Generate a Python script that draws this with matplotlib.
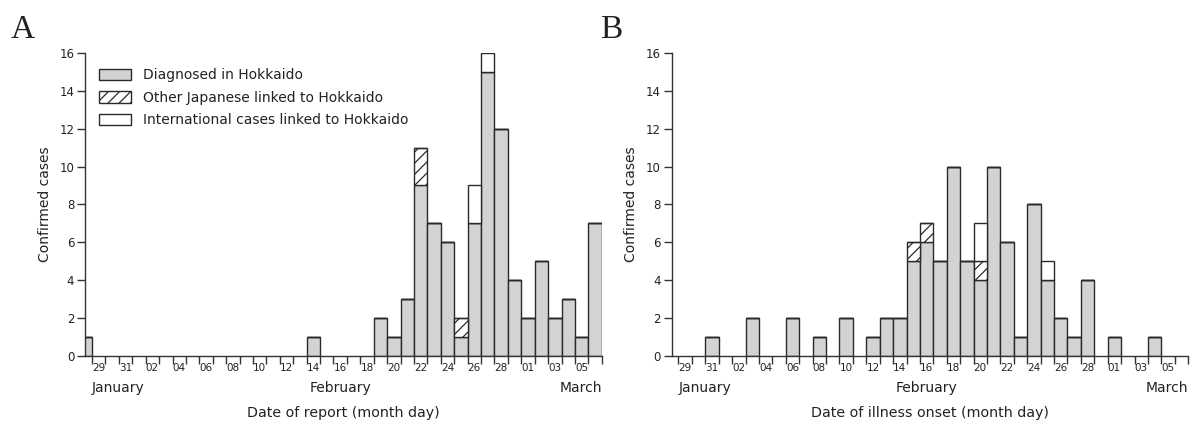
import matplotlib
matplotlib.use('Agg')
import matplotlib.pyplot as plt
from matplotlib.patches import Patch
import numpy as np

plt.rcParams['font.family'] = ['DejaVu Sans']
plt.rcParams['hatch.linewidth'] = 0.9
plt.rcParams['hatch.color'] = '#222222'

# day index: 0 = Jan 28, 4 = Feb 1, 33 = Mar 1 (2020)
days = np.arange(1, 40)
tick_days = np.arange(1, 39, 2)
tick_labels = ['29', '31', '02', '04', '06', '08', '10', '12', '14', '16',
               '18', '20', '22', '24', '26', '28', '01', '03', '05']

# Panel A: date of report
rep_days = [0, 17, 22, 23, 24, 25, 26, 27, 28, 29, 30, 31, 32, 33, 34, 35, 36, 37, 38]
rep_hokkaido = [1, 1, 2, 1, 3, 9, 7, 6, 1, 7, 15, 12, 4, 2, 5, 2, 3, 1, 7]
rep_japan = [0, 0, 0, 0, 0, 2, 0, 0, 1, 0, 0, 0, 0, 0, 0, 0, 0, 0, 0]
rep_intl = [0, 0, 0, 0, 0, 0, 0, 0, 0, 2, 1, 0, 0, 0, 0, 0, 0, 0, 0]

# Panel B: date of illness onset
ons_days = [3, 6, 9, 11, 13, 15, 16, 17, 18, 19, 20, 21, 22, 23, 24, 25, 26,
            27, 28, 29, 30, 31, 33, 36]
ons_hokkaido = [1, 2, 2, 1, 2, 1, 2, 2, 5, 6, 5, 10, 5, 4, 10, 6, 1,
                8, 4, 2, 1, 4, 1, 1]
ons_japan = [0, 0, 0, 0, 0, 0, 0, 0, 1, 1, 0, 0, 0, 1, 0, 0, 0,
             0, 0, 0, 0, 0, 0, 0]
ons_intl = [0, 0, 0, 0, 0, 0, 0, 0, 0, 0, 0, 0, 0, 2, 0, 0, 0,
            0, 1, 0, 0, 0, 0, 0]

gray = '#d3d3d3'
edge = '#2a2a2a'
axcol = '#333333'

fig = plt.figure(figsize=(11.9, 4.21), dpi=100)
axA = fig.add_axes([0.0717, 0.155, 0.434, 0.719])
axB = fig.add_axes([0.5645, 0.155, 0.434, 0.719])


def draw(ax, d, h, j, n, xlabel):
    d = np.array(d)
    h = np.array(h)
    j = np.array(j)
    n = np.array(n)
    ax.bar(d, h, width=1, align='edge', color=gray, edgecolor=edge, linewidth=1.0)
    ax.bar(d, j, bottom=h, width=1, align='edge', color='white', edgecolor=edge,
           linewidth=1.0, hatch='///')
    ax.bar(d, n, bottom=h + j, width=1, align='edge', color='white', edgecolor=edge,
           linewidth=1.0)
    ax.set_xlim(0.5, 39)
    ax.set_ylim(0, 16)
    ax.set_yticks(range(0, 17, 2))
    ax.set_xticks(days, minor=False)
    ax.set_xticklabels([''] * len(days))
    ax.set_xticks(tick_days + 0.5, minor=True)
    ax.set_xticklabels(tick_labels, minor=True)
    ax.tick_params(axis='x', which='major', length=6, width=1, color=axcol)
    ax.tick_params(axis='x', which='minor', length=0, pad=5, labelsize=7.5,
                   labelcolor='#222222')
    ax.tick_params(axis='y', length=6, width=1, color=axcol, labelsize=8.5,
                   labelcolor='#222222', pad=2)
    for s in ['top', 'right']:
        ax.spines[s].set_visible(False)
    for s in ['left', 'bottom']:
        ax.spines[s].set_color(axcol)
        ax.spines[s].set_linewidth(1.0)
    ax.text(1, -0.107, 'January', transform=ax.get_xaxis_transform(),
            ha='left', va='center', fontsize=10, color='#222222')
    ax.text(17.2, -0.107, 'February', transform=ax.get_xaxis_transform(),
            ha='left', va='center', fontsize=10, color='#222222')
    ax.text(39, -0.107, 'March', transform=ax.get_xaxis_transform(),
            ha='right', va='center', fontsize=10, color='#222222')
    ax.text(0.5, -0.188, xlabel, transform=ax.transAxes,
            ha='center', va='center', fontsize=10.3, color='#222222')
    ax.text(-0.078, 0.5, 'Confirmed cases', transform=ax.transAxes, rotation=90,
            ha='center', va='center', fontsize=10, color='#222222')


draw(axA, rep_days, rep_hokkaido, rep_japan, rep_intl, 'Date of report (month day)')
draw(axB, ons_days, ons_hokkaido, ons_japan, ons_intl, 'Date of illness onset (month day)')

handles = [Patch(facecolor=gray, edgecolor=edge, linewidth=1.0),
           Patch(facecolor='white', edgecolor=edge, linewidth=1.0, hatch='///'),
           Patch(facecolor='white', edgecolor=edge, linewidth=1.0)]
labels = ['Diagnosed in Hokkaido', 'Other Japanese linked to Hokkaido',
          'International cases linked to Hokkaido']
axA.legend(handles, labels, loc='upper left', bbox_to_anchor=(0.0265, 0.95),
           frameon=False, borderpad=0, borderaxespad=0, fontsize=10,
           handlelength=2.3, handleheight=0.85, handletextpad=0.9,
           labelspacing=0.62, labelcolor='#222222')

fig.text(0.019, 0.929, 'A', fontsize=24, family='Liberation Serif',
         ha='center', va='center', color='#222222')
fig.text(0.514, 0.929, 'B', fontsize=24, family='Liberation Serif',
         ha='center', va='center', color='#222222')

fig.savefig('out.png', dpi=100)
